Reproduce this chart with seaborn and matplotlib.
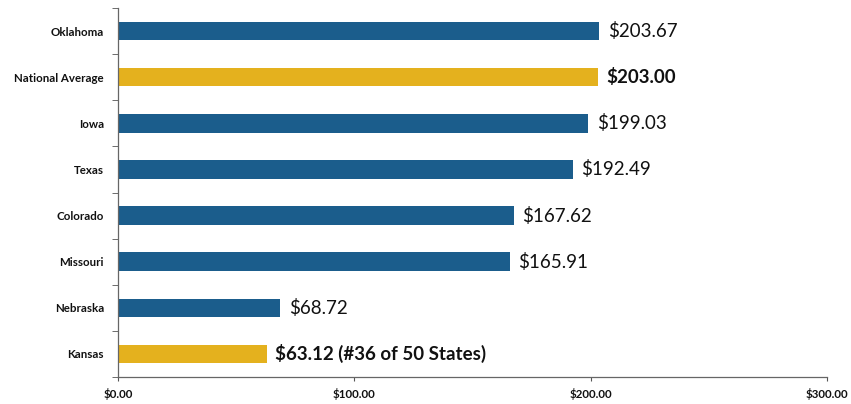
import matplotlib
matplotlib.use("Agg")
import matplotlib.pyplot as plt
import seaborn as sns
import pandas as pd
from matplotlib.ticker import FixedLocator, FuncFormatter

categories = ["Oklahoma", "National Average", "Iowa", "Texas", "Colorado",
              "Missouri", "Nebraska", "Kansas"]
values = [203.67, 203.00, 199.03, 192.49, 167.62, 165.91, 68.72, 63.12]
groups = ["state", "highlight", "state", "state", "state", "state", "state", "highlight"]
label_suffix = ["", "", "", "", "", "", "", " (#36 of 50 States)"]
bold_label = [False, True, False, False, False, False, False, True]
x_ticks = [0, 100, 200, 300]

df = pd.DataFrame({"category": categories, "value": values, "group": groups})

sns.set_style("white")
plt.rcParams["font.family"] = ["Lato", "DejaVu Sans"]

fig = plt.figure(figsize=(8.51, 4.04), dpi=100)
ax = fig.add_axes([118/851, 1 - 377/404, (827 - 118)/851, (377 - 8)/404])

palette = {"state": "#1b5d8c", "highlight": "#e4b11e"}
sns.barplot(data=df, x="value", y="category", hue="group", palette=palette,
            dodge=False, width=0.4, legend=False, ax=ax, saturation=1,
            edgecolor="none")

ax.set_xlim(0, 300)
ax.set_ylim(len(categories) - 0.5, -0.5)
ax.set_xticks(x_ticks)
ax.xaxis.set_major_formatter(FuncFormatter(lambda v, p: f"${v:,.2f}"))
ax.set_xlabel("")
ax.set_ylabel("")

for lbl in ax.get_xticklabels():
    lbl.set_fontweight("bold")
    lbl.set_fontsize(8.3)
    lbl.set_color("#111111")
for lbl in ax.get_yticklabels():
    lbl.set_fontweight("bold")
    lbl.set_fontsize(8.3)
    lbl.set_color("#111111")

ax.tick_params(axis="y", which="major", length=0, pad=10)
ax.yaxis.set_minor_locator(FixedLocator([i - 0.5 for i in range(len(categories) + 1)]))
ax.tick_params(axis="y", which="minor", length=4, color="#555555", direction="out", left=True)
ax.tick_params(axis="x", which="major", length=3, color="#555555", direction="out",
               bottom=True, pad=5)

for s in ["top", "right"]:
    ax.spines[s].set_visible(False)
for s in ["left", "bottom"]:
    ax.spines[s].set_color("#666666")
    ax.spines[s].set_linewidth(0.9)

for i, (v, suf, b) in enumerate(zip(values, label_suffix, bold_label)):
    ax.text(v + 3.5, i, f"${v:,.2f}{suf}", va="center", ha="left",
            fontsize=13.5, fontweight="bold" if b else "normal", color="#111111")

fig.savefig("out.png", dpi=100)
